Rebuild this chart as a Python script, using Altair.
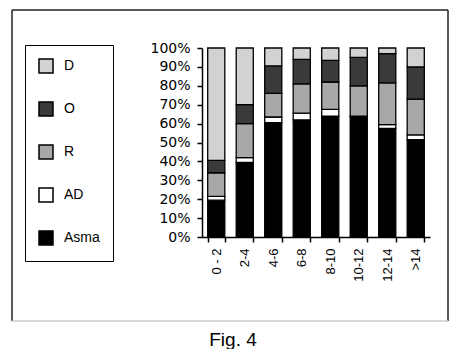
import altair as alt
import pandas as pd

categories = ["0 - 2", "2-4", "4-6", "6-8", "8-10", "10-12", "12-14", ">14"]
series = ["Asma", "AD", "R", "O", "D"]
asma = [19.5, 39.5, 60.5, 62, 64, 63.5, 57.5, 51.5]
ad = [2, 2.5, 3, 3.5, 3.5, 0.5, 2, 2.5]
r_vals = [12.5, 18, 12.5, 15.5, 14.5, 16, 22, 19]
o_vals = [6.5, 10, 14.5, 13, 11.5, 15, 15.5, 17]
d_vals = [59.5, 30, 9.5, 6, 6.5, 5, 3, 10]

legend_order = ["D", "O", "R", "AD", "Asma"]
colors = ["#d2d2d2", "#3a3a3a", "#a8a8a8", "#ffffff", "#000000"]

rows = []
for i, c in enumerate(categories):
    for k, (name, vals) in enumerate(zip(series, [asma, ad, r_vals, o_vals, d_vals])):
        rows.append({"cat": c, "serie": name, "val": vals[i], "ord": k})
df = pd.DataFrame(rows)

x_scale = alt.Scale(domain=categories, paddingInner=0.4, paddingOuter=0.2)

bars = alt.Chart(df).mark_bar(stroke="black", strokeWidth=1.3).encode(
    x=alt.X("cat:N", sort=categories, scale=x_scale,
            axis=alt.Axis(title=None, labelAngle=-90, ticks=True, tickBand="extent",
                          tickSize=5, tickColor="black", tickWidth=1.5,
                          labelFont="Liberation Sans", labelFontSize=13, labelColor="black",
                          domainColor="black", domainWidth=1.5, labelPadding=6)),
    y=alt.Y("val:Q", stack="normalize",
            scale=alt.Scale(domain=[0, 1], nice=False),
            axis=alt.Axis(title=None, format="%", values=[i / 10 for i in range(11)],
                          tickSize=5, tickColor="black", tickWidth=1.5,
                          domainColor="black", domainWidth=1.5, grid=False,
                          labelFont="DejaVu Sans", labelFontSize=14, labelColor="black",
                          labelPadding=7)),
    color=alt.Color("serie:N", scale=alt.Scale(domain=legend_order, range=colors),
                    legend=alt.Legend(title=None, orient="none", legendX=-177, legendY=-3,
                                      symbolType="square", symbolSize=196,
                                      symbolStrokeColor="black", symbolStrokeWidth=1.5,
                                      symbolOpacity=1, strokeColor="black", padding=13,
                                      rowPadding=23, labelFont="Liberation Sans",
                                      labelFontSize=14, labelColor="black", labelOffset=10)),
    order=alt.Order("ord:Q", sort="ascending"),
)

frame_df = pd.DataFrame({"k": [0]})
left = alt.Chart(frame_df).mark_rule(color="#222222", strokeWidth=1.5).encode(
    x=alt.value(-190), y=alt.value(-38), y2=alt.value(273))
top = alt.Chart(frame_df).mark_rule(color="#222222", strokeWidth=1.5).encode(
    x=alt.value(-190), x2=alt.value(246), y=alt.value(-38))
right = alt.Chart(frame_df).mark_rule(color="#222222", strokeWidth=1.5).encode(
    x=alt.value(246), y=alt.value(-38), y2=alt.value(273))
bottom = alt.Chart(frame_df).mark_rule(color="#cccccc", strokeWidth=1.5).encode(
    x=alt.value(-190), x2=alt.value(246), y=alt.value(273))

chart = alt.layer(bars, left, top, right, bottom).properties(
    width=228, height=189,
    title=alt.TitleParams("Fig. 4", orient="bottom", anchor="middle", frame="bounds",
                          font="Liberation Sans", fontSize=19, fontWeight="normal",
                          color="black", offset=9, dx=3),
    autosize=alt.AutoSizeParams(type="none"),
    padding={"left": 194, "top": 40, "right": 20, "bottom": 112},
).configure_view(stroke=None)

chart.save("out.html", embed_options={"renderer": "svg", "actions": False})
